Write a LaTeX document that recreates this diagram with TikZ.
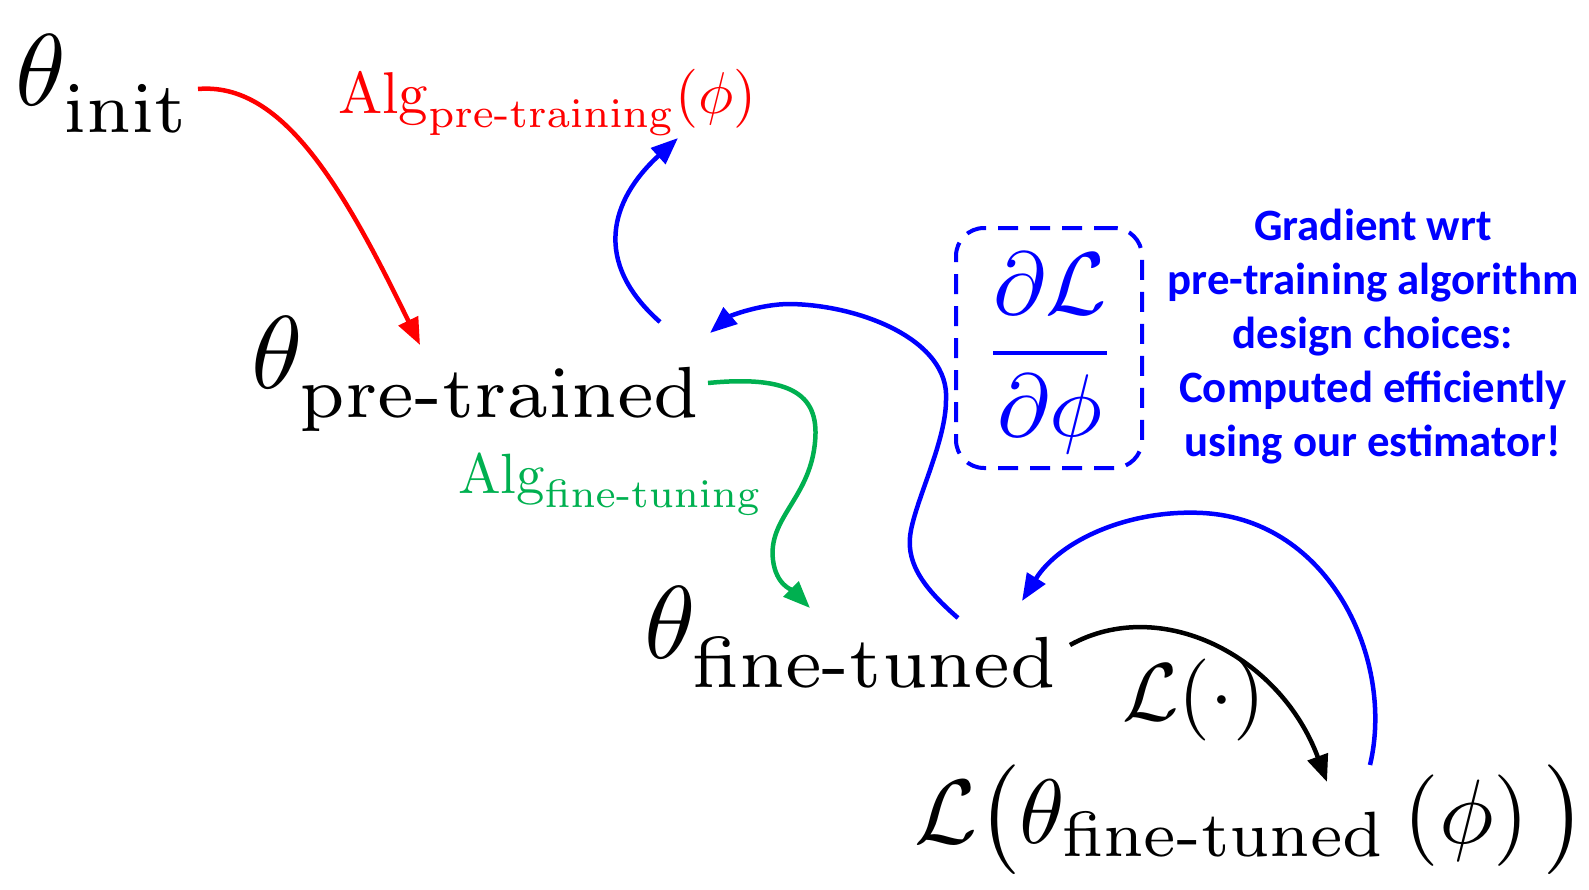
\documentclass[tikz,border=0pt]{standalone}
\usepackage{amsmath}
\usepackage{graphicx}
\usepackage{fontspec}
\newfontfamily\calib{Carlito}
\newcommand\cmtxt[1]{\text{\fontencoding{OT1}\fontfamily{cmr}\selectfont #1}}
\usetikzlibrary{arrows.meta}
\definecolor{pblue}{RGB}{0,0,255}
\definecolor{pred}{RGB}{255,0,0}
\definecolor{pgreen}{RGB}{0,176,80}
\begin{document}
\begin{tikzpicture}[x=1pt,y=-1pt,
  conn/.style={line width=4.5pt,-{Triangle[length=27pt,width=21pt]}},
  lbl/.style={inner sep=0pt,anchor=base west},
  dashbox/.style={draw=pblue,line width=4pt,dash pattern=on 20pt off 12pt,rounded corners=28pt},
  gradtext/.style={text=pblue,font=\calib\bfseries\fontsize{44.8}{54}\selectfont,align=center,inner sep=0pt}
 ]
\useasboundingbox (0,0) rectangle (1589,889);
% formulas
\node[lbl] (init) at (15,105) {\scalebox{10.2}{$\theta^{}_{\cmtxt{init}}$}};
\node[lbl] (pre) at (251,388) {\scalebox{10.35}{$\theta^{}_{\cmtxt{pre-trained}}$}};
\node[lbl] (ft) at (644,658) {\scalebox{10.35}{$\theta^{}_{\cmtxt{fine-tuned}}$}};
\node[lbl,text=pred] (algpre) at (338,113) {\scalebox{5.9}{$\cmtxt{Alg}^{}_{\cmtxt{pre-training}}(\phi)$}};
\node[lbl,text=pgreen] (algft) at (458,493) {\scalebox{5.68}{$\cmtxt{Alg}^{}_{\cmtxt{fine-tuning}}$}};
\node[lbl] (lfun) at (1122,720) {\scalebox{8.2}{$\mathcal{L}(\cdot)$}};
\node[lbl] (loss) at (914,843) {\scalebox{9.15}{$\mathcal{L}\big(\theta_{\cmtxt{fine-tuned}}\left(\phi\right)\big)$}};
% gradient box
\node[dashbox,minimum width=186pt,minimum height=240pt,inner sep=0pt] (box) at (1049,348) {};
\node[anchor=base,inner sep=0pt,text=pblue] (frac) at (1050,375) {\scalebox{8.9}{$\dfrac{\partial\mathcal{L}}{\partial\phi}$}};
\node[gradtext] (grad) at (1373,337) {Gradient wrt\\pre-training algorithm\\design choices:\\Computed efficiently\\using our estimator!};
% connector end points
\coordinate (r1) at (198,89);   \coordinate (r2) at (420,345);
\coordinate (b1) at (660,322);  \coordinate (b2) at (678,138);
\coordinate (g1) at (708,383);  \coordinate (g2) at (810,608);
\coordinate (bb1) at (958,618); \coordinate (bb2) at (710,333);
\coordinate (rb1) at (1370,765); \coordinate (rb2) at (1022,601);
\coordinate (k1) at (1070,645); \coordinate (k2) at (1327,782);
% connectors
\draw[conn,pred] (r1) .. controls (280,82) and (340,180) .. (r2);
\draw[conn,pblue] (b1) .. controls (592,262) and (610,200) .. (b2);
\draw[conn,pgreen] (g1) .. controls (800,374) and (822,400) .. (814,450)
   .. controls (806,500) and (768,520) .. (773,560)
   .. controls (776,585) and (792,590) .. (g2);
\draw[conn,pblue] (bb1) .. controls (920,585) and (905,560) .. (911,530)
   .. controls (918,495) and (946,440) .. (946,400)
   .. controls (950,340) and (860,305) .. (790,304)
   .. controls (760,304) and (730,316) .. (bb2);
\draw[conn,pblue] (rb1) .. controls (1395,660) and (1330,520) .. (1203,513)
   .. controls (1130,509) and (1060,540) .. (rb2);
\draw[conn,black] (k1) .. controls (1160,595) and (1280,655) .. (k2);
\end{tikzpicture}
\end{document}
